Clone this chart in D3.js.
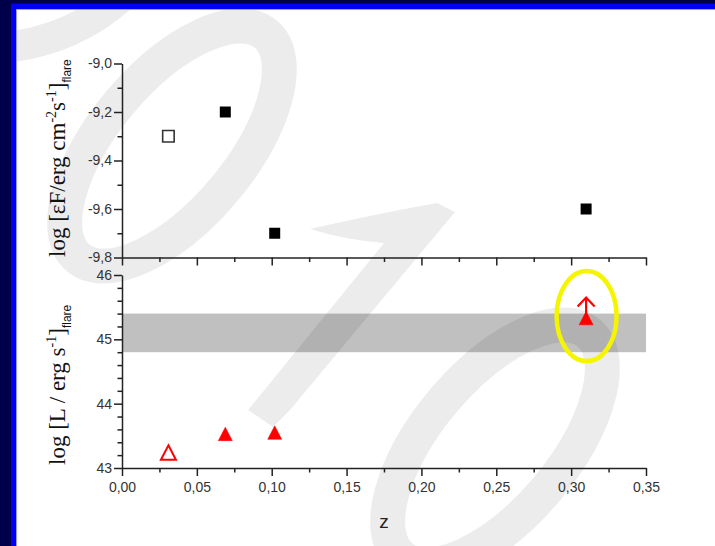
<!DOCTYPE html>
<html>
<head>
<meta charset="utf-8">
<script src="https://cdn.jsdelivr.net/npm/d3@7"></script>
<style>
body { margin: 0; overflow: hidden; background: #fff; }
svg { display: block; }
</style>
</head>
<body>
<svg id="chart" width="715" height="546"></svg>
<script>

// upper panel: log flux vs redshift
var fluxZ    = [0.031, 0.069, 0.102, 0.310];
var fluxLog  = [-9.30, -9.20, -9.70, -9.60];
var fluxOpen = [true, false, false, false];

// lower panel: log luminosity vs redshift
var lumZ     = [0.031, 0.069, 0.102, 0.310];
var lumLog   = [43.24, 43.53, 43.55, 45.33];
var lumOpen  = [true, false, false, false];
var lumLimit = [false, false, false, true];

// shaded range in the lower panel
var lumBand = [44.8, 45.4];

// ticks
var zMajor    = [0, 0.05, 0.10, 0.15, 0.20, 0.25, 0.30, 0.35];
var zMinor    = [0.025, 0.075, 0.125, 0.175, 0.225, 0.275, 0.325];
var fluxMajor = [-9.8, -9.6, -9.4, -9.2, -9.0];
var fluxMinor = [-9.7, -9.5, -9.3, -9.1];
var lumMajor  = [43, 44, 45, 46];
var lumMinor  = [43.2, 43.4, 43.6, 43.8, 44.2, 44.4, 44.6, 44.8, 45.2, 45.4, 45.6, 45.8];

var locale = d3.formatLocale({decimal: ",", thousands: ".", grouping: [3], currency: ["", ""], minus: "-"});

var svg = d3.select("#chart");

var x    = d3.scaleLinear().domain([0, 0.35]).range([122, 646]);
var yTop = d3.scaleLinear().domain([-9.8, -9.0]).range([257.5, 63.5]);
var yBot = d3.scaleLinear().domain([43, 46]).range([468, 275]);

// slide frame
svg.append("rect").attr("width", 715).attr("height", 546).attr("fill", "#00004a");
svg.append("rect").attr("x", 11).attr("y", 3.5).attr("width", 704).attr("height", 543).attr("fill", "#0000f5");
svg.append("rect").attr("x", 16).attr("y", 9).attr("width", 699).attr("height", 537).attr("fill", "#9c9cff");
svg.append("rect").attr("x", 17).attr("y", 10).attr("width", 698).attr("height", 536).attr("fill", "#fff");

// shaded band
svg.append("rect")
    .attr("x", x(0))
    .attr("y", yBot(lumBand[1]))
    .attr("width", x(0.35) - x(0))
    .attr("height", yBot(lumBand[0]) - yBot(lumBand[1]))
    .attr("fill", "#c0c0c0");

// "2010" watermark of the slide
svg.append("clipPath").attr("id", "slide").append("rect")
    .attr("x", 17).attr("y", 10).attr("width", 698).attr("height", 536);

var mark = svg.append("g")
    .attr("clip-path", "url(#slide)")
    .attr("fill", "#000")
    .attr("fill-opacity", 0.075)
    .attr("stroke", "#000")
    .attr("stroke-opacity", 0.075);

mark.append("path")
    .attr("d", "M0,48 Q70,42 120,-2")
    .attr("fill", "none")
    .attr("stroke-width", 31);

[[172, 146], [495, 445]].forEach(c => {
    mark.append("ellipse")
        .attr("transform", `translate(${c[0]},${c[1]}) rotate(-50)`)
        .attr("rx", 146).attr("ry", 68)
        .attr("fill", "none")
        .attr("stroke-width", 35);
});

mark.append("path")
    .attr("stroke", "none")
    .attr("d", "M310,229 Q375,214 437,203 L455,212 L290,410 L273,427 L248,410 L384,243 Q345,240 310,229 Z");

// axes
function styleAxis(g) {
    g.select(".domain").attr("stroke", "#222").attr("stroke-width", 1.5);
    g.selectAll(".tick line").attr("stroke", "#222").attr("stroke-width", 1.5);
    g.selectAll(".tick text")
        .attr("fill", "#333")
        .style("font-family", "'Liberation Sans', Arial, sans-serif")
        .style("font-size", "14px");
}

function minorAxis(axis, values, transform) {
    svg.append("g")
        .attr("transform", transform)
        .call(axis.tickValues(values).tickSize(4.5).tickFormat(""))
        .call(g => g.select(".domain").remove())
        .call(styleAxis);
}

// upper panel
svg.append("g")
    .attr("transform", `translate(0,${yTop(-9.8)})`)
    .call(d3.axisBottom(x).tickValues(zMajor).tickSize(8).tickSizeOuter(0).tickFormat(""))
    .call(styleAxis);
minorAxis(d3.axisBottom(x), zMinor, `translate(0,${yTop(-9.8)})`);

svg.append("g")
    .attr("transform", `translate(${x(0)},0)`)
    .call(d3.axisLeft(yTop).tickValues(fluxMajor).tickSize(8).tickSizeOuter(0).tickPadding(2)
          .tickFormat(locale.format(".1f")))
    .call(styleAxis);
minorAxis(d3.axisLeft(yTop), fluxMinor, `translate(${x(0)},0)`);

// lower panel
svg.append("g")
    .attr("transform", `translate(0,${yBot(43)})`)
    .call(d3.axisBottom(x).tickValues(zMajor).tickSize(8).tickSizeOuter(0).tickPadding(6)
          .tickFormat(locale.format(".2f")))
    .call(styleAxis);
minorAxis(d3.axisBottom(x), zMinor, `translate(0,${yBot(43)})`);

svg.append("g")
    .attr("transform", `translate(${x(0)},0)`)
    .call(d3.axisLeft(yBot).tickValues(lumMajor).tickSize(8).tickSizeOuter(0).tickPadding(2)
          .tickFormat(locale.format("d")))
    .call(styleAxis);
minorAxis(d3.axisLeft(yBot), lumMinor, `translate(${x(0)},0)`);

// flux squares
var flux = fluxZ.map((z, i) => ({z: z, v: fluxLog[i], open: fluxOpen[i]}));
svg.append("g").selectAll("path")
    .data(flux)
    .join("path")
    .attr("transform", d => `translate(${x(d.z)},${yTop(d.v)})`)
    .attr("d", d => d3.symbol(d3.symbolSquare, d.open ? 132 : 121)())
    .attr("fill", d => d.open ? "#fff" : "#000")
    .attr("stroke", d => d.open ? "#333" : "none")
    .attr("stroke-width", 1.6);

// luminosity triangles
function triangle(w, h) {
    return `M0,${-h / 2}L${w / 2},${h / 2}L${-w / 2},${h / 2}Z`;
}
var lum = lumZ.map((z, i) => ({z: z, v: lumLog[i], open: lumOpen[i], limit: lumLimit[i]}));

var lumG = svg.append("g");
lumG.selectAll("g.limit")
    .data(lum.filter(d => d.limit))
    .join("g")
    .attr("class", "limit")
    .attr("transform", d => `translate(${x(d.z)},${yBot(d.v)})`)
    .call(g => g.append("path")
        .attr("d", "M0,0V-20M-8.5,-11.5L0,-20.5L8.5,-11.5")
        .attr("fill", "none")
        .attr("stroke", "#ff0000")
        .attr("stroke-width", 2.2));

lumG.selectAll("path.pt")
    .data(lum)
    .join("path")
    .attr("class", "pt")
    .attr("transform", d => `translate(${x(d.z)},${yBot(d.v)})`)
    .attr("d", d => d.open ? triangle(15, 14.5) : triangle(14, 13.5))
    .attr("fill", d => d.open ? "#fff" : "#ff0000")
    .attr("stroke", "#ff0000")
    .attr("stroke-width", d => d.open ? 2 : 0.5)
    .attr("stroke-linejoin", "miter");

// highlight ring around the lower limit
svg.append("g").selectAll("ellipse")
    .data(lum.filter(d => d.limit))
    .join("ellipse")
    .attr("cx", d => x(d.z) + 0.5)
    .attr("cy", d => yBot(d.v) - 2)
    .attr("rx", 30)
    .attr("ry", 45)
    .attr("fill", "none")
    .attr("stroke", "#f5f500")
    .attr("stroke-width", 4.5);

// axis titles
var serif = "'Liberation Serif', 'Times New Roman', serif";
var narrow = "'Liberation Sans Narrow', 'Arial Narrow', 'Liberation Sans', sans-serif";

var t1 = svg.append("text")
    .attr("transform", "translate(65,257) rotate(-90)")
    .style("font-family", serif).style("font-size", "23px").attr("fill", "#111");
t1.append("tspan").text("log [εF/erg cm");
t1.append("tspan").attr("dy", -9).style("font-size", "14px").text("-2");
t1.append("tspan").attr("dy", 9).text("s");
t1.append("tspan").attr("dy", -9).style("font-size", "14px").text("-1");
t1.append("tspan").attr("dy", 9).text("]");
t1.append("tspan").attr("dy", 6).style("font-family", narrow).style("font-size", "12px").text("flare");

var t2 = svg.append("text")
    .attr("transform", "translate(65,465) rotate(-90)")
    .style("font-family", serif).style("font-size", "23px").attr("fill", "#111");
t2.append("tspan").text("log [L / erg s");
t2.append("tspan").attr("dy", -9).style("font-size", "14px").text("-1");
t2.append("tspan").attr("dy", 9).text("]");
t2.append("tspan").attr("dy", 6).style("font-family", narrow).style("font-size", "12px").text("flare");

svg.append("text")
    .attr("x", 384).attr("y", 528)
    .attr("text-anchor", "middle")
    .style("font-family", "'Liberation Sans', Arial, sans-serif")
    .style("font-size", "19px")
    .attr("fill", "#222")
    .text("z");

</script>
</body>
</html>
